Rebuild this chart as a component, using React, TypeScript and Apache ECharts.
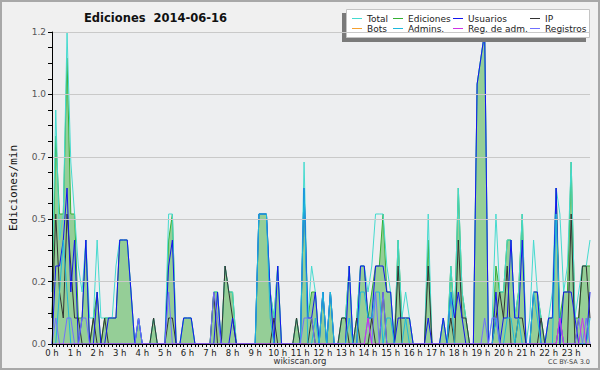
import React, { useEffect, useRef } from 'react';
import * as echarts from 'echarts';

const hourLabels = ['0 h','1 h','2 h','3 h','4 h','5 h','6 h','7 h','8 h','9 h','10 h','11 h','12 h','13 h','14 h','15 h','16 h','17 h','18 h','19 h','20 h','21 h','22 h','23 h'];
const minuteMarks = ['00','10','20','30','40','50'];
const categories = hourLabels.flatMap((_, h) => minuteMarks.map((m) => `${h}:${m}`));

// edits per minute, 10-minute bins (6 per hour)
const total = [
  0.2,0.9,0.4,0.5,1.2,0.7, 0.5,0.3,0.2,0.4,0.1,0.1, 0.4,0.1,0.1,0.1,0.1,0.3, 0.4,0.4,0.4,0.2,0,0.1,
  0,0,0,0.1,0,0, 0,0.5,0.5,0,0,0.1, 0.1,0.1,0,0,0,0, 0,0.2,0.2,0,0.3,0.2,
  0.2,0,0,0,0,0, 0,0.5,0.5,0.5,0.2,0.1, 0.3,0,0,0,0,0.1, 0,0.7,0.1,0.3,0.2,0,
  0.2,0,0.2,0,0,0.1, 0.1,0.3,0,0.1,0.3,0.3, 0.2,0.3,0.5,0.5,0.5,0.3, 0.2,0,0.4,0.1,0.2,0.1,
  0,0,0,0,0.5,0, 0,0,0.1,0,0.3,0.1, 0.6,0.2,0.1,0,0,1.0, 1.1,1.2,0,0.1,0.5,0.2,
  0.2,0.4,0.4,0.1,0.2,0.5, 0,0.1,0.4,0.2,0.1,0, 0.1,0.2,0.6,0.5,0.2,0.3, 0.7,0.1,0.2,0.3,0.3,0.4,
];
const ediciones = [
  0.1,0.8,0.5,0.5,1.1,0.5, 0.5,0.1,0.1,0.4,0,0.1, 0.2,0,0.1,0.1,0.1,0.1, 0.4,0.4,0.4,0.2,0,0.1,
  0,0,0,0.1,0,0, 0,0.4,0.5,0,0,0.1, 0.1,0.1,0,0,0,0, 0,0.2,0.2,0,0.3,0.2,
  0.2,0,0,0,0,0, 0,0.5,0.5,0.5,0.2,0.1, 0.3,0,0,0,0,0.1, 0,0.6,0.1,0.2,0.2,0,
  0.2,0,0.2,0,0,0.1, 0.1,0.3,0,0.1,0.3,0.3, 0.1,0.2,0.3,0.3,0.5,0.2, 0.2,0,0.4,0.1,0.1,0.1,
  0,0,0,0,0.4,0, 0,0,0.1,0,0.3,0.1, 0.6,0.2,0.1,0,0,1.0, 1.1,1.2,0,0,0.3,0.2,
  0.2,0.4,0.4,0.1,0.2,0.5, 0,0,0.2,0.2,0.1,0, 0.1,0.1,0.6,0.1,0.2,0.2, 0.7,0.1,0.1,0.3,0.3,0.3,
];
const usuarios = [
  0,0.3,0.3,0.4,0.6,0.2, 0.4,0,0.1,0.4,0,0, 0.2,0,0,0.1,0.1,0.1, 0.4,0.4,0.4,0.2,0,0.1,
  0,0,0,0,0,0, 0,0.3,0.4,0,0,0.1, 0.1,0.1,0,0,0,0, 0,0,0.2,0,0,0,
  0.1,0,0,0,0,0, 0,0.5,0.5,0.5,0.2,0, 0.3,0,0,0,0,0, 0,0.6,0.1,0.1,0.2,0,
  0.2,0,0.2,0,0,0, 0,0.3,0,0,0.3,0.3, 0.1,0.1,0.3,0.3,0.3,0.2, 0.2,0,0.1,0.1,0.1,0.1,
  0,0,0,0,0.1,0, 0,0,0.1,0,0.2,0.1, 0.2,0.1,0,0,0,1.0, 1.1,1.2,0,0,0.2,0,
  0.1,0.1,0.4,0.1,0.1,0.4, 0,0,0.2,0.2,0,0, 0.1,0.1,0.6,0,0.2,0.2, 0.2,0.1,0,0,0,0.2,
];
const ip = [
  0.1,0.5,0.2,0.1,0.5,0.3, 0.1,0.1,0,0,0,0.1, 0,0,0.1,0,0,0, 0,0,0,0,0,0,
  0,0,0,0.1,0,0, 0,0.1,0.1,0,0,0, 0,0,0,0,0,0, 0,0.2,0,0,0.3,0.2,
  0.1,0,0,0,0,0, 0,0,0,0,0,0.1, 0,0,0,0,0,0.1, 0,0,0,0.1,0,0,
  0,0,0,0,0,0.1, 0.1,0,0,0.1,0,0, 0,0.1,0,0,0.2,0, 0,0,0.3,0,0,0,
  0,0,0,0,0.3,0, 0,0,0,0,0.1,0, 0.4,0.1,0.1,0,0,0, 0,0,0,0,0.1,0.2,
  0.1,0.3,0,0,0.1,0.1, 0,0,0,0,0.1,0, 0,0,0,0.1,0,0, 0.5,0,0.1,0.3,0.3,0.1,
];
const bots: number[] = [];
const admins = [
  0,0,0.2,0.4,0.2,0, 0,0,0,0,0,0, 0,0,0,0,0,0, 0,0,0,0,0,0,
  0,0,0,0,0,0, 0,0,0,0,0,0, 0,0,0,0,0,0, 0,0,0,0,0,0,
  0,0,0,0,0,0, 0,0.5,0.5,0.5,0.1,0, 0,0,0,0,0,0, 0,0.6,0,0,0.1,0,
  0.2,0,0.2,0,0,0, 0,0.1,0,0,0.2,0.2, 0.1,0.1,0.2,0.2,0,0.1, 0.1,0,0,0,0.1,0,
  0,0,0,0,0,0, 0,0,0,0,0.2,0, 0,0,0,0,0,0, 0,0,0,0,0.1,0,
  0,0.1,0.1,0,0.1,0, 0,0,0.2,0.1,0,0, 0,0,0.5,0.1,0,0, 0,0,0,0,0,0.1,
];
const regAdm = [
  0,0,0,0,0,0, 0,0,0,0,0,0, 0,0,0,0,0,0, 0,0,0,0,0,0,
  0,0,0,0,0,0, 0,0,0,0,0,0, 0,0,0,0,0,0, 0,0,0,0,0,0,
  0,0,0,0,0,0, 0,0,0,0,0,0, 0,0,0,0,0,0, 0,0,0,0,0,0,
  0,0,0,0,0,0, 0,0,0,0,0,0, 0.1,0,0,0,0,0, 0,0,0,0,0,0,
  0,0,0,0,0,0, 0,0,0,0,0,0, 0,0,0,0,0,0, 0,0,0,0,0,0,
  0,0,0,0,0,0, 0,0,0,0,0,0, 0,0,0,0.1,0,0, 0,0,0,0.1,0,0,
];
const registros = [
  0,0.1,0,0,0.1,0.1, 0,0,0.1,0.1,0,0, 0,0,0,0,0,0, 0,0,0,0,0,0.1,
  0,0,0,0,0,0, 0,0.2,0,0,0,0, 0,0,0,0,0,0, 0,0.2,0.1,0,0,0,
  0,0,0,0,0,0, 0,0,0,0,0,0, 0,0,0,0,0,0, 0,0.1,0.1,0.1,0,0,
  0,0,0,0,0,0, 0,0,0,0,0,0, 0.1,0,0.2,0,0.2,0, 0,0,0,0,0,0,
  0,0,0,0,0,0, 0,0,0,0,0,0, 0,0,0,0,0,0, 0,0.1,0,0.1,0.1,0,
  0,0,0,0,0,0, 0,0,0,0,0,0, 0,0,0,0.1,0,0, 0,0,0.1,0,0.1,0,
];

const yTicks = { min: 0, max: 1.2, interval: 0.24 };

const COLORS = {
  total: '#45dacf',
  ediciones: '#33b033',
  edicionesFill: '#95ce97',
  usuarios: '#1414ee',
  ip: '#333333',
  bots: '#f5a030',
  admins: '#1cb8dc',
  regAdm: '#cc33e6',
  registros: '#7070ff',
};

const FONT = 'DejaVu Sans';

function lineSeries(name: string, data: number[], color: string, z: number, extra: any = {}) {
  return {
    name,
    type: 'line',
    data,
    color,
    symbol: 'none',
    showSymbol: false,
    silent: true,
    z,
    lineStyle: { color, width: 1 },
    emphasis: { disabled: true },
    ...extra,
  };
}

function legendCol(left: number, names: string[]) {
  return {
    orient: 'vertical',
    left,
    top: 14,
    padding: 0,
    itemGap: 1,
    itemWidth: 10,
    itemHeight: 1,
    icon: 'rect',
    selectedMode: false,
    z: 6,
    data: names,
    textStyle: { fontFamily: FONT, fontSize: 9, lineHeight: 9, color: '#222', padding: 0 },
  };
}

export default function App() {
  const ref = useRef<HTMLDivElement>(null);
  useEffect(() => {
    if (!ref.current) return;
    const chart = echarts.init(ref.current, undefined, { renderer: 'svg' });
    chart.setOption({
      animation: false,
      backgroundColor: '#f0f0f0',
      title: {
        text: 'Ediciones  2014-06-16',
        left: 84,
        top: 12,
        padding: 0,
        textStyle: { fontFamily: FONT, fontWeight: 'bold', fontSize: 11.5, color: '#111' },
      },
      grid: {
        left: 46, right: 10, top: 32, bottom: 26,
        show: true, backgroundColor: '#edeef0', borderWidth: 0,
      },
      legend: [
        legendCol(352, ['Total', 'Bots']),
        legendCol(393, ['Ediciones', 'Admins.']),
        legendCol(453, ['Usuarios', 'Reg. de adm.']),
        legendCol(530, ['IP', 'Registros']),
      ],
      xAxis: {
        type: 'category',
        data: categories,
        boundaryGap: false,
        z: 8,
        axisLine: { lineStyle: { color: '#000', width: 1 } },
        axisTick: { interval: 0, length: 3, lineStyle: { color: '#000' } },
        axisLabel: {
          interval: 5,
          margin: 4,
          fontFamily: FONT,
          fontSize: 8.5,
          color: '#222',
          formatter: (_v: string, idx: number) => hourLabels[Math.floor(idx / 6)],
        },
        splitLine: { show: false },
      },
      yAxis: {
        type: 'value',
        min: yTicks.min,
        max: yTicks.max,
        interval: yTicks.interval,
        z: 8,
        name: 'Ediciones/min',
        nameLocation: 'middle',
        nameGap: 33,
        nameTextStyle: { fontFamily: 'DejaVu Sans Mono', fontSize: 11, color: '#111' },
        axisLine: { show: true, lineStyle: { color: '#000', width: 1 } },
        axisTick: { show: true, length: 4, lineStyle: { color: '#000' } },
        minorTick: { show: true, splitNumber: 4, length: 4, lineStyle: { color: '#000' } },
        axisLabel: {
          margin: 6,
          fontFamily: FONT,
          fontSize: 9,
          color: '#555',
          formatter: (v: number) => v.toFixed(1),
        },
        splitLine: { show: true, lineStyle: { color: '#c9c9c9', width: 1 } },
      },
      series: [
        lineSeries('Ediciones', ediciones, COLORS.ediciones, 2, {
          areaStyle: { color: COLORS.edicionesFill, opacity: 1 },
        }),
        lineSeries('Total', total, COLORS.total, 2),
        lineSeries('IP', ip, COLORS.ip, 2),
        lineSeries('Usuarios', usuarios, COLORS.usuarios, 2),
        lineSeries('Admins.', admins, COLORS.admins, 2),
        lineSeries('Bots', bots, COLORS.bots, 2),
        lineSeries('Registros', registros, COLORS.registros, 2),
        lineSeries('Reg. de adm.', regAdm, COLORS.regAdm, 2),
      ],
      graphic: [
        { type: 'rect', silent: true, z: 5, shape: { x: 342, y: 13, width: 244, height: 29 }, style: { fill: '#7a7a7a' } },
        { type: 'rect', silent: true, z: 5, shape: { x: 346.5, y: 9.5, width: 243, height: 28 }, style: { fill: '#ffffff', stroke: '#c4c4c4', lineWidth: 1 } },
        { type: 'text', silent: true, z: 5, x: 300, y: 361, style: { text: 'wikiscan.org', fill: '#333', font: `8.5px "${FONT}"`, align: 'center', verticalAlign: 'middle' } },
        { type: 'text', silent: true, z: 5, x: 590, y: 362, style: { text: 'CC BY-SA 3.0', fill: '#444', font: `6.5px "${FONT}"`, align: 'right', verticalAlign: 'middle' } },
        { type: 'rect', silent: true, z: 20, shape: { x: 1, y: 1, width: 598, height: 368 }, style: { fill: 'none', stroke: '#a8a8a8', lineWidth: 2 } },
      ],
    });
    return () => chart.dispose();
  }, []);
  return <div ref={ref} style={{ position: 'absolute', left: 0, top: 0, width: 600, height: 370 }} />;
}
